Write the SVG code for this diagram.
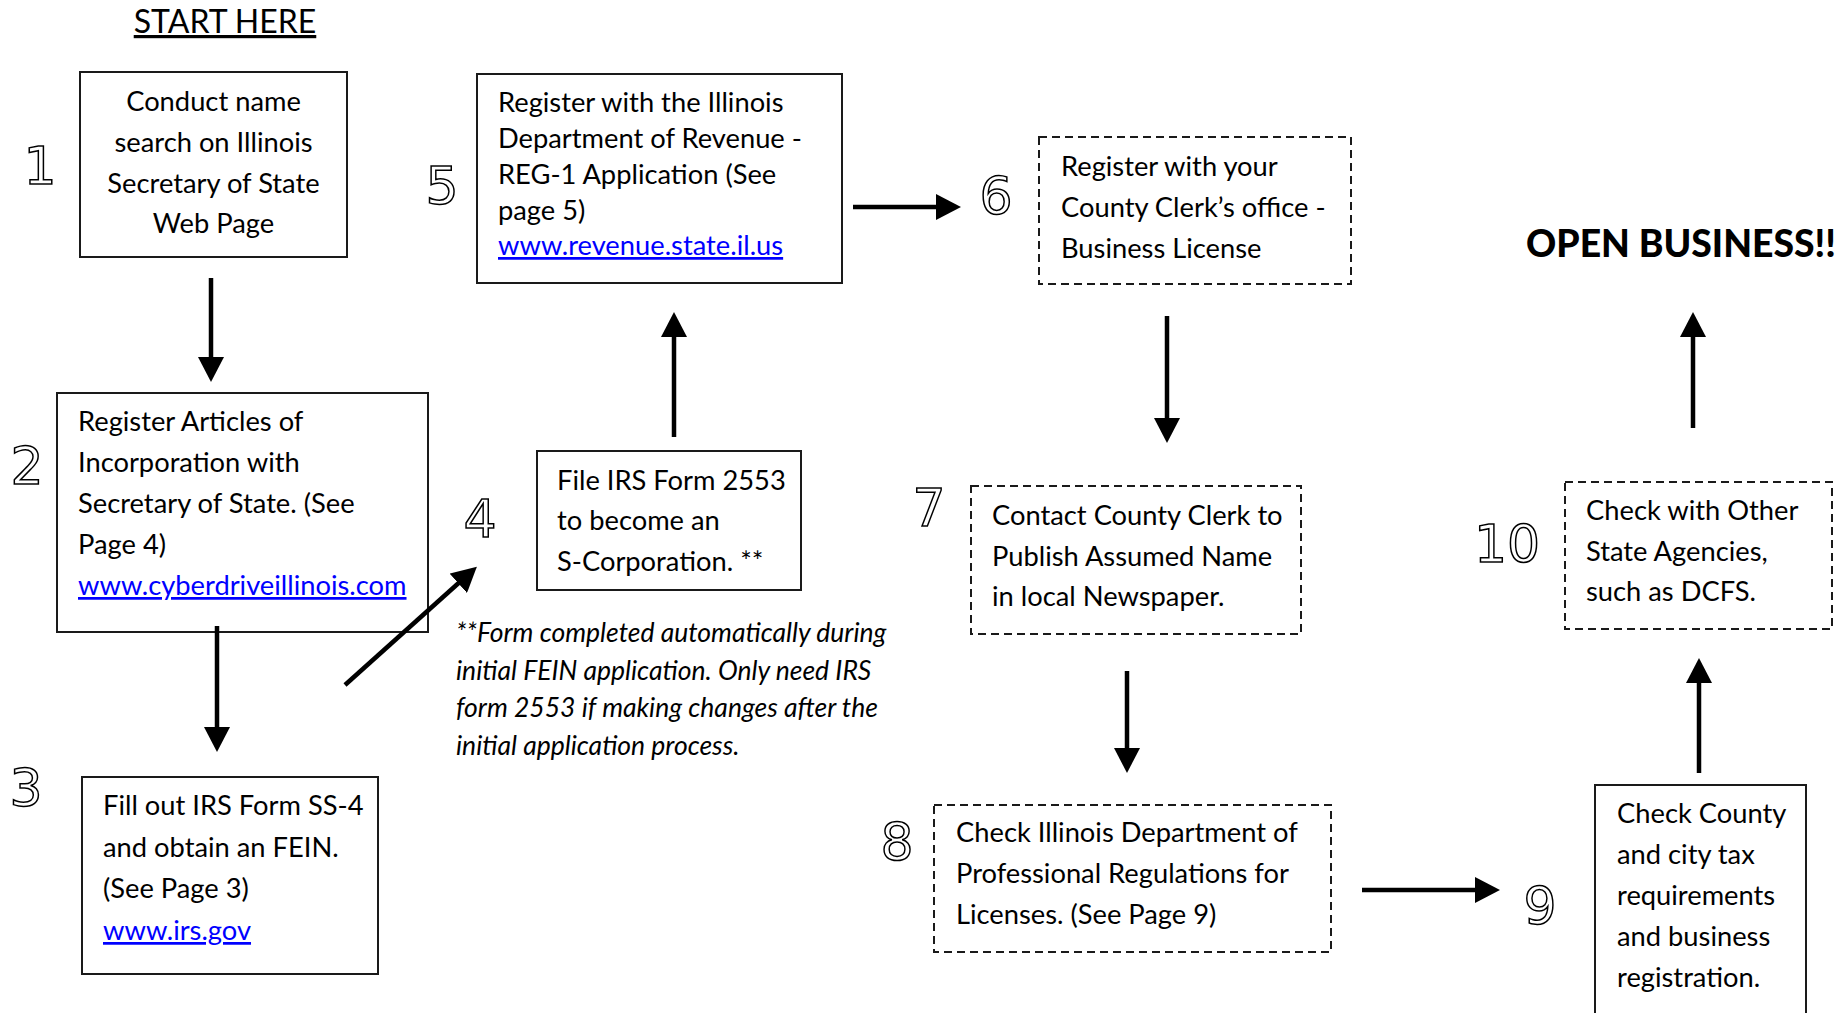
<svg xmlns="http://www.w3.org/2000/svg" width="1842" height="1013" viewBox="0 0 1842 1013">
<style>
.bg{fill:#fff}
.box{fill:#fff;stroke:#1a1a1a;stroke-width:2}
.dbox{fill:#fff;stroke:#1a1a1a;stroke-width:2;stroke-dasharray:8 5}
.t{font-family:Lato,"Open Sans",sans-serif;font-size:27.3px;fill:#000}
.c{text-anchor:middle}
.link{fill:#0000ff;text-decoration:underline}
.num{font-family:"DejaVu Sans","Open Sans",sans-serif;font-size:52px;fill:#fff;stroke:#000;stroke-width:1.5;text-anchor:middle}
.note{font-family:Lato,"Open Sans",sans-serif;font-size:26.5px;font-style:italic;fill:#000}
.arr{stroke:#000;stroke-width:4.5;fill:none;marker-end:url(#ah)}
.title{font-family:Lato,"Open Sans",sans-serif;font-size:32px;fill:#000;text-decoration:underline;text-anchor:middle}
.open{font-family:Lato,"Open Sans",sans-serif;font-size:37.3px;font-weight:900;fill:#000}
</style>
<defs>
<marker id="ah" markerUnits="userSpaceOnUse" markerWidth="26" markerHeight="26" refX="5" refY="13" orient="auto">
<path d="M0,0 L25,13 L0,26 Z" fill="#000"/>
</marker>
</defs>
<rect class="bg" x="0" y="0" width="1842" height="1013"/>

<text class="title" x="225" y="33">START HERE</text>
<text class="open" x="1526" y="257">OPEN BUSINESS!!</text>

<g id="node1">
<rect class="box" x="80" y="72" width="267" height="185"/>
<text class="num" x="40" y="184">1</text>
<text class="t c" x="213.5" y="111">Conduct name</text>
<text class="t c" x="213.5" y="152">search on Illinois</text>
<text class="t c" x="213.5" y="193">Secretary of State</text>
<text class="t c" x="213.5" y="233">Web Page</text>
</g>

<g id="node2">
<rect class="box" x="57" y="393" width="371" height="239"/>
<text class="num" x="27" y="484">2</text>
<text class="t" x="78" y="431">Register Articles of</text>
<text class="t" x="78" y="472">Incorporation with</text>
<text class="t" x="78" y="513">Secretary of State. (See</text>
<text class="t" x="78" y="554">Page 4)</text>
<text class="t link" x="78" y="595">www.cyberdriveillinois.com</text>
</g>

<g id="node3">
<rect class="box" x="82" y="777" width="296" height="197"/>
<text class="num" x="26" y="806">3</text>
<text class="t" x="103" y="815">Fill out IRS Form SS-4</text>
<text class="t" x="103" y="857">and obtain an FEIN.</text>
<text class="t" x="103" y="898">(See Page 3)</text>
<text class="t link" x="103" y="940">www.irs.gov</text>
</g>

<g id="node4">
<rect class="box" x="537" y="451" width="264" height="139"/>
<text class="num" x="480" y="537">4</text>
<text class="t" x="557" y="490">File IRS Form 2553</text>
<text class="t" x="557" y="530">to become an</text>
<text class="t" x="557" y="571">S-Corporation. **</text>
</g>

<g id="footnote">
<text class="note" x="456" y="642">**Form completed automatically during</text>
<text class="note" x="456" y="680">initial FEIN application. Only need IRS</text>
<text class="note" x="456" y="717">form 2553 if making changes after the</text>
<text class="note" x="456" y="755">initial application process.</text>
</g>

<g id="node5">
<rect class="box" x="477" y="74" width="365" height="209"/>
<text class="num" x="442" y="204">5</text>
<text class="t" x="498" y="112">Register with the Illinois</text>
<text class="t" x="498" y="148">Department of Revenue -</text>
<text class="t" x="498" y="184">REG-1 Application (See</text>
<text class="t" x="498" y="220">page 5)</text>
<text class="t link" x="498" y="255">www.revenue.state.il.us</text>
</g>

<g id="node6">
<rect class="dbox" x="1039" y="137" width="312" height="147"/>
<text class="num" x="996" y="214">6</text>
<text class="t" x="1061" y="176">Register with your</text>
<text class="t" x="1061" y="217">County Clerk’s office -</text>
<text class="t" x="1061" y="258">Business License</text>
</g>

<g id="node7">
<rect class="dbox" x="971" y="486" width="330" height="148"/>
<text class="num" x="929" y="526">7</text>
<text class="t" x="992" y="525">Contact County Clerk to</text>
<text class="t" x="992" y="566">Publish Assumed Name</text>
<text class="t" x="992" y="606">in local Newspaper.</text>
</g>

<g id="node8">
<rect class="dbox" x="934" y="805" width="397" height="147"/>
<text class="num" x="897" y="860">8</text>
<text class="t" x="956" y="842">Check Illinois Department of</text>
<text class="t" x="956" y="883">Professional Regulations for</text>
<text class="t" x="956" y="924">Licenses. (See Page 9)</text>
</g>

<g id="node9">
<rect class="box" x="1595" y="785" width="211" height="240"/>
<text class="num" x="1540" y="924">9</text>
<text class="t" x="1617" y="823">Check County</text>
<text class="t" x="1617" y="864">and city tax</text>
<text class="t" x="1617" y="905">requirements</text>
<text class="t" x="1617" y="946">and business</text>
<text class="t" x="1617" y="987">registration.</text>
</g>

<g id="node10">
<rect class="dbox" x="1565" y="482" width="267" height="147"/>
<text class="num" x="1507" y="562">10</text>
<text class="t" x="1586" y="520">Check with Other</text>
<text class="t" x="1586" y="561">State Agencies,</text>
<text class="t" x="1586" y="601">such as DCFS.</text>
</g>

<g id="connectors">
<line class="arr" x1="211" y1="278" x2="211" y2="362"/>
<line class="arr" x1="217" y1="626" x2="217" y2="732"/>
<line class="arr" x1="345" y1="685" x2="462" y2="580"/>
<line class="arr" x1="674" y1="437" x2="674" y2="332"/>
<line class="arr" x1="853" y1="207" x2="941" y2="207"/>
<line class="arr" x1="1167" y1="316" x2="1167" y2="423"/>
<line class="arr" x1="1127" y1="671" x2="1127" y2="753"/>
<line class="arr" x1="1362" y1="890" x2="1480" y2="890"/>
<line class="arr" x1="1699" y1="773" x2="1699" y2="678"/>
<line class="arr" x1="1693" y1="428" x2="1693" y2="332"/>
</g>
</svg>
